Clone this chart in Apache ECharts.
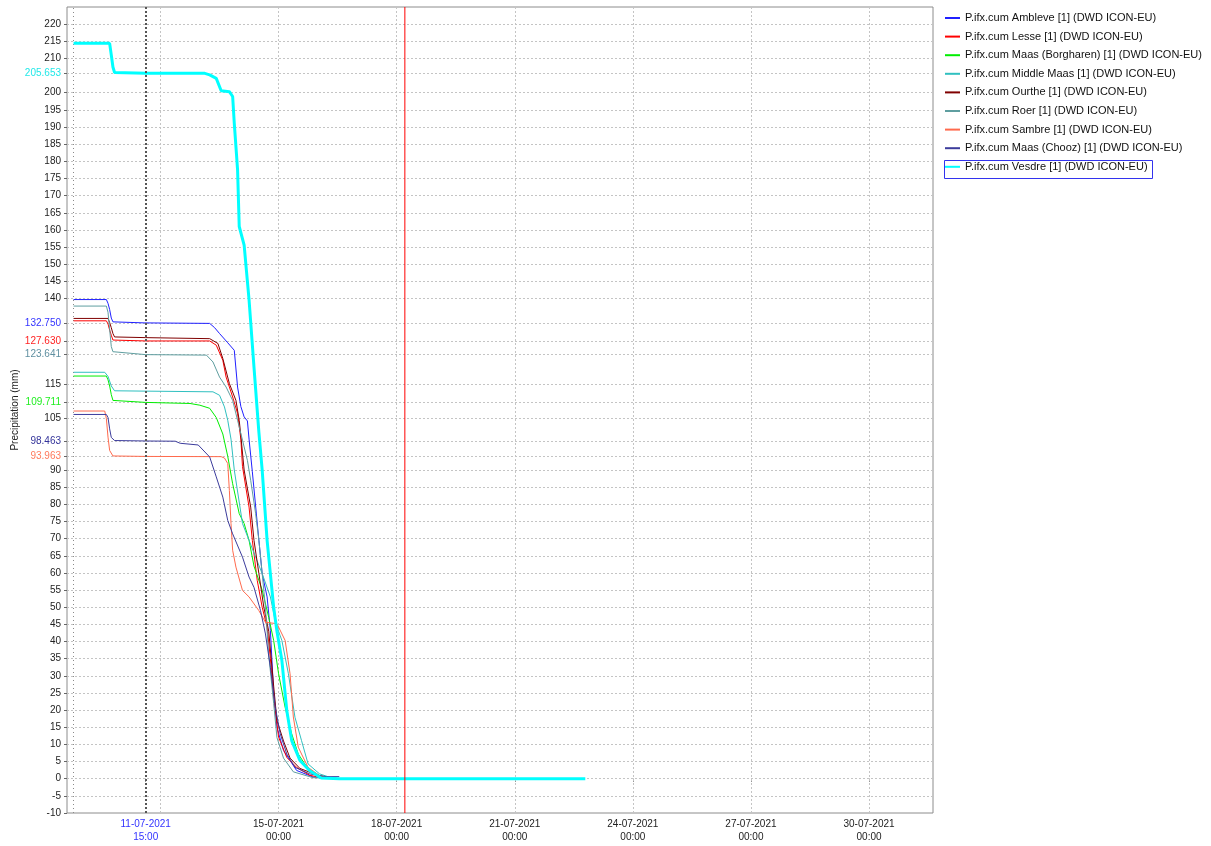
<!DOCTYPE html>
<html><head><meta charset="utf-8">
<script src="https://cdn.jsdelivr.net/npm/echarts@6/dist/echarts.min.js"></script>
<style>html,body{margin:0;padding:0;background:#fff}#c{width:1211px;height:846px}</style>
</head><body><div id="c"></div>
<script>
const seriesNames = [
  'P.ifx.cum Ambleve [1] (DWD ICON-EU)',
  'P.ifx.cum Lesse [1] (DWD ICON-EU)',
  'P.ifx.cum Maas (Borgharen) [1] (DWD ICON-EU)',
  'P.ifx.cum Middle Maas [1] (DWD ICON-EU)',
  'P.ifx.cum Ourthe [1] (DWD ICON-EU)',
  'P.ifx.cum Roer [1] (DWD ICON-EU)',
  'P.ifx.cum Sambre [1] (DWD ICON-EU)',
  'P.ifx.cum Maas (Chooz) [1] (DWD ICON-EU)',
  'P.ifx.cum Vesdre [1] (DWD ICON-EU)'
];
const ambleve = [
  ['2021-07-09 19:00',139.7],['2021-07-10 15:00',139.7],['2021-07-10 16:00',138.6],['2021-07-10 17:00',136.8],
  ['2021-07-10 18:00',134.3],['2021-07-10 19:00',133.2],['2021-07-10 20:00',132.9],['2021-07-11 14:00',132.9],
  ['2021-07-11 15:00',132.75],['2021-07-13 06:00',132.75],['2021-07-13 09:00',131.5],['2021-07-13 12:00',129.8],
  ['2021-07-13 17:00',127.1],['2021-07-13 21:00',124.9],['2021-07-13 23:00',114.2],['2021-07-14 01:00',108.5],
  ['2021-07-14 03:00',105.5],['2021-07-14 05:00',104.3],['2021-07-14 06:00',99.0],['2021-07-14 08:00',89.5],
  ['2021-07-14 12:00',69.5],['2021-07-14 14:00',59.8],['2021-07-14 17:00',53.0],['2021-07-14 19:00',43.2],
  ['2021-07-14 21:00',25.0],['2021-07-14 23:00',15.0],['2021-07-15 03:00',8.2],['2021-07-15 07:00',5.3],
  ['2021-07-15 11:00',2.4],['2021-07-15 21:00',0.5],['2021-07-16 05:00',0.1],['2021-07-16 13:00',0]
];
const lesse = [
  ['2021-07-09 19:00',133.5],['2021-07-10 15:00',133.5],['2021-07-10 16:00',132.6],['2021-07-10 17:00',130.8],
  ['2021-07-10 18:00',129.3],['2021-07-10 19:00',127.9],['2021-07-10 20:00',127.7],['2021-07-11 15:00',127.63],
  ['2021-07-13 06:00',127.63],['2021-07-13 10:00',126.4],['2021-07-13 14:00',122.0],['2021-07-13 16:00',117.1],
  ['2021-07-13 20:00',111.3],['2021-07-13 23:00',106.5],['2021-07-14 01:00',99.0],['2021-07-14 02:00',91.0],
  ['2021-07-14 06:00',79.2],['2021-07-14 08:00',69.5],['2021-07-14 11:00',57.8],['2021-07-14 14:00',50.0],
  ['2021-07-14 17:00',44.2],['2021-07-14 19:00',35.0],['2021-07-14 21:00',24.0],['2021-07-15 00:00',12.1],
  ['2021-07-15 05:00',6.2],['2021-07-15 11:00',3.3],['2021-07-15 19:00',1.0],['2021-07-16 02:00',0.3],
  ['2021-07-16 13:00',0]
];
const borgharen = [
  ['2021-07-09 19:00',117.4],['2021-07-10 15:00',117.4],['2021-07-10 16:00',116.3],['2021-07-10 17:00',114.5],
  ['2021-07-10 18:00',112.0],['2021-07-10 19:00',110.3],['2021-07-10 20:00',110.0],['2021-07-11 15:00',109.711],
  ['2021-07-12 18:00',109.4],['2021-07-13 00:00',108.9],['2021-07-13 06:00',108.0],['2021-07-13 10:00',105.3],
  ['2021-07-13 14:00',100.5],['2021-07-13 17:00',94.0],['2021-07-13 20:00',86.0],['2021-07-14 00:00',77.3],
  ['2021-07-14 03:00',74.4],['2021-07-14 06:00',69.5],['2021-07-14 09:00',62.0],['2021-07-14 14:00',55.0],
  ['2021-07-14 18:00',47.0],['2021-07-14 21:00',40.3],['2021-07-15 00:00',30.6],['2021-07-15 04:00',20.8],
  ['2021-07-15 08:00',13.1],['2021-07-15 12:00',7.2],['2021-07-15 16:00',4.3],['2021-07-15 20:00',2.3],
  ['2021-07-16 01:00',0.9],['2021-07-16 08:00',0.2],['2021-07-16 13:00',0]
];
const middleMaas = [
  ['2021-07-09 19:00',118.5],['2021-07-10 14:00',118.5],['2021-07-10 16:00',117.3],['2021-07-10 18:00',114.5],
  ['2021-07-10 20:00',113.1],['2021-07-11 15:00',113.0],['2021-07-13 08:00',112.8],['2021-07-13 12:00',111.8],
  ['2021-07-13 15:00',108.4],['2021-07-13 17:00',104.5],['2021-07-13 19:00',99.0],['2021-07-13 21:00',90.0],
  ['2021-07-14 02:00',74.4],['2021-07-14 06:00',69.5],['2021-07-14 10:00',64.6],['2021-07-14 14:00',59.8],
  ['2021-07-14 19:00',53.0],['2021-07-14 22:00',46.0],['2021-07-15 00:00',43.0],['2021-07-15 02:00',40.3],
  ['2021-07-15 06:00',30.6],['2021-07-15 10:00',17.9],['2021-07-15 14:00',11.1],['2021-07-15 18:00',4.3],
  ['2021-07-16 01:00',1.4],['2021-07-16 08:00',0.3],['2021-07-16 13:00',0]
];
const ourthe = [
  ['2021-07-09 19:00',134.2],['2021-07-10 16:00',134.2],['2021-07-10 17:00',133.0],['2021-07-10 18:00',131.5],
  ['2021-07-10 19:00',129.8],['2021-07-10 20:00',128.8],['2021-07-11 15:00',128.6],['2021-07-13 06:00',128.3],
  ['2021-07-13 11:00',126.9],['2021-07-13 14:00',122.5],['2021-07-13 18:00',115.2],['2021-07-13 22:00',110.3],
  ['2021-07-14 00:00',104.5],['2021-07-14 01:00',100.0],['2021-07-14 03:00',90.0],['2021-07-14 07:00',79.2],
  ['2021-07-14 09:00',69.5],['2021-07-14 12:00',59.8],['2021-07-14 15:00',50.0],['2021-07-14 18:00',43.0],
  ['2021-07-14 21:00',27.0],['2021-07-14 23:00',17.0],['2021-07-15 03:00',11.0],['2021-07-15 07:00',6.0],
  ['2021-07-15 13:00',3.0],['2021-07-16 02:00',0.6],['2021-07-16 13:00',0]
];
const roer = [
  ['2021-07-09 19:00',137.8],['2021-07-10 15:00',137.8],['2021-07-10 16:00',136.0],['2021-07-10 17:00',131.0],
  ['2021-07-10 18:00',126.0],['2021-07-10 19:00',124.5],['2021-07-10 20:00',124.0],['2021-07-11 15:00',123.641],
  ['2021-07-13 04:00',123.5],['2021-07-13 08:00',121.5],['2021-07-13 12:00',117.1],['2021-07-13 16:00',114.2],
  ['2021-07-13 20:00',110.3],['2021-07-13 23:00',104.5],['2021-07-14 02:00',98.7],['2021-07-14 05:00',92.8],
  ['2021-07-14 07:00',87.0],['2021-07-14 10:00',77.3],['2021-07-14 12:00',69.5],['2021-07-14 14:00',59.8],
  ['2021-07-14 16:00',50.0],['2021-07-14 18:00',36.0],['2021-07-14 21:00',22.0],['2021-07-14 23:00',12.0],
  ['2021-07-15 03:00',6.0],['2021-07-15 09:00',2.0],['2021-07-15 21:00',0.3],['2021-07-16 13:00',0]
];
const sambre = [
  ['2021-07-09 19:00',107.2],['2021-07-10 14:00',107.2],['2021-07-10 15:00',105.0],['2021-07-10 16:00',99.6],
  ['2021-07-10 17:00',95.7],['2021-07-10 19:00',94.1],['2021-07-11 15:00',93.963],['2021-07-13 13:00',93.9],
  ['2021-07-13 15:00',93.5],['2021-07-13 17:00',91.9],['2021-07-13 18:00',84.0],['2021-07-13 19:00',74.4],
  ['2021-07-13 20:00',66.6],['2021-07-13 22:00',61.7],['2021-07-14 02:00',54.9],['2021-07-14 06:00',53.0],
  ['2021-07-14 12:00',49.0],['2021-07-14 16:00',45.6],['2021-07-14 23:00',45.2],['2021-07-15 04:00',40.3],
  ['2021-07-15 07:00',30.6],['2021-07-15 09:00',18.0],['2021-07-15 12:00',9.2],['2021-07-15 14:00',7.2],
  ['2021-07-15 18:00',3.3],['2021-07-16 01:00',0.9],['2021-07-16 08:00',0.2],['2021-07-16 13:00',0]
];
const chooz = [
  ['2021-07-09 19:00',106.2],['2021-07-10 15:00',106.2],['2021-07-10 16:00',105.3],['2021-07-10 17:00',102.0],
  ['2021-07-10 18:00',99.5],['2021-07-10 20:00',98.6],['2021-07-11 15:00',98.463],['2021-07-12 09:00',98.4],
  ['2021-07-12 12:00',97.8],['2021-07-12 23:00',97.3],['2021-07-13 06:00',93.8],['2021-07-13 10:00',88.0],
  ['2021-07-13 14:00',82.1],['2021-07-13 17:00',75.3],['2021-07-13 20:00',71.4],['2021-07-14 02:00',64.6],
  ['2021-07-14 06:00',58.8],['2021-07-14 09:00',55.8],['2021-07-14 13:00',49.0],['2021-07-14 16:00',42.2],
  ['2021-07-14 19:00',32.5],['2021-07-14 22:00',20.8],['2021-07-15 01:00',13.1],['2021-07-15 05:00',7.2],
  ['2021-07-15 10:00',3.3],['2021-07-15 19:00',1.4],['2021-07-16 05:00',0.6],['2021-07-16 13:00',0.6]
];
const vesdre = [
  ['2021-07-09 19:00',214.4],['2021-07-10 17:00',214.4],['2021-07-10 18:00',211.0],['2021-07-10 19:00',207.5],
  ['2021-07-10 20:00',205.9],['2021-07-11 15:00',205.653],['2021-07-13 03:00',205.65],['2021-07-13 06:00',205.2],
  ['2021-07-13 10:00',204.2],['2021-07-13 13:00',200.6],['2021-07-13 18:00',200.3],['2021-07-13 20:00',198.9],
  ['2021-07-13 21:00',191.0],['2021-07-13 22:00',184.3],['2021-07-13 23:00',177.5],['2021-07-14 00:00',161.0],
  ['2021-07-14 03:00',155.6],['2021-07-14 06:00',139.6],['2021-07-14 09:00',120.0],['2021-07-14 12:00',101.0],
  ['2021-07-14 14:00',90.0],['2021-07-14 17:00',69.5],['2021-07-14 21:00',50.0],['2021-07-14 23:00',43.0],
  ['2021-07-15 02:00',34.5],['2021-07-15 05:00',19.9],['2021-07-15 08:00',11.1],['2021-07-15 13:00',5.3],
  ['2021-07-15 19:00',2.3],['2021-07-16 02:00',0.2],['2021-07-16 13:00',0],['2021-07-22 19:00',0]
];
// y tick labels (every 5, some hidden by current-value labels) and current values
const yTickValues = [-10,-5,0,5,10,15,20,25,30,35,40,45,50,55,60,65,70,75,80,85,90,105,115,140,145,150,155,160,165,170,175,180,185,190,195,200,210,215,220];
const currentValues = [205.653,132.75,127.63,123.641,109.711,98.463,93.963];
const xLabelTimes = ['2021-07-11 15:00','2021-07-15 00:00','2021-07-18 00:00','2021-07-21 00:00','2021-07-24 00:00','2021-07-27 00:00','2021-07-30 00:00'];
const xGridTimes = ['2021-07-12 00:00','2021-07-15 00:00','2021-07-18 00:00','2021-07-21 00:00','2021-07-24 00:00','2021-07-27 00:00','2021-07-30 00:00'];
const forecastStart = '2021-07-09 19:00';
const currentTime = '2021-07-11 15:00';
const redMarkTime = '2021-07-18 05:00';
const xMin = '2021-07-09 15:00';
const xMax = '2021-07-31 15:00';
const yMin = -10, yMax = 225;

// styles
const lineColors = ['#2020ff','#ff0000','#00ee00','#30c0c0','#800000','#5f9ea0','#ff6a4d','#3c3c9c','#00ffff'];
const currentValueColors = ['#22e8e8','#3333ff','#ff2222','#5f8fa0','#22ee22','#33339a','#ff7a5c'];

function ts(s){ return new Date(s.replace(' ','T')).getTime(); }
function pad(n){ return (n<10?'0':'')+n; }
const seriesData = [ambleve,lesse,borgharen,middleMaas,ourthe,roer,sambre,chooz,vesdre];

function vLine(name, t, style, z){
  return { type:'line', name:name, data:[], silent:true, z:z,
    markLine:{ silent:true, symbol:['none','none'], animation:false, z:z,
      label:{show:false}, emphasis:{disabled:true}, lineStyle:style,
      data:[{xAxis:ts(t)}] } };
}

const chart = echarts.init(document.getElementById('c'));
const series = [];
const yGrid = yTickValues.filter(v=>v>-10).concat(currentValues);
series.push({
  type:'line', name:'_grid', data:[], silent:true, z:1,
  markLine:{
    silent:true, symbol:['none','none'], animation:false, z:1,
    label:{show:false}, emphasis:{disabled:true},
    lineStyle:{color:'#c4c4c4', type:[2,2], width:1},
    data: yGrid.map(v=>({yAxis:v})).concat(xGridTimes.map(t=>({xAxis:ts(t)})))
  }
});
series.push(vLine('_start', forecastStart, {color:'#8a8a8a', type:[1,3], width:1}, 2));
seriesData.forEach((d,i)=>series.push({
  type:'line', name:seriesNames[i], showSymbol:false, symbol:'none',
  data:d.map(p=>[ts(p[0]),p[1]]), z:10+i,
  lineStyle:{color:lineColors[i], width: i===8?3:1},
  itemStyle:{color:lineColors[i]},
  emphasis:{disabled:true}, animation:false
}));
series.push(vLine('_now', currentTime, {color:'#555555', type:[2,2], width:2}, 30));
// red time marker drawn as a vertical line series spanning the y range
series.push({
  type:'line', name:'_red', silent:true, z:31, showSymbol:false, symbol:'none',
  data:[[ts(redMarkTime), yMin],[ts(redMarkTime), yMax]],
  lineStyle:{color:'#ff0000', width:1}, itemStyle:{color:'#ff0000'},
  emphasis:{disabled:true}, animation:false
});

const yLabelValues = yTickValues.concat(currentValues);
const xLabelTs = xLabelTimes.map(ts);

chart.setOption({
  animation:false,
  backgroundColor:'#fff',
  textStyle:{fontFamily:'Liberation Sans, Arial, sans-serif'},
  grid:{left:67, right:278, top:7, bottom:33, containLabel:false, outerBoundsMode:'none',
        show:true, borderColor:'#8c8c8c', borderWidth:1, backgroundColor:'#fff'},
  legend:{
    orient:'vertical', left:944, top:12, padding:0, itemWidth:15, itemHeight:12, itemGap:6.6,
    data:seriesNames, selectedMode:false,
    itemStyle:{opacity:0},
    textStyle:{fontSize:11, color:'#111', lineHeight:12}
  },
  graphic:[{type:'rect', left:942, top:158, shape:{width:208, height:18}, style:{fill:'none', stroke:'#3333ee', lineWidth:1}, z:100}],
  xAxis:{
    type:'value', min:ts(xMin), max:ts(xMax),
    axisLine:{show:false}, splitLine:{show:false},
    axisTick:{show:true, customValues:xLabelTs, length:3, lineStyle:{color:'#666'}},
    axisLabel:{
      customValues:xLabelTs, fontSize:10, lineHeight:13, margin:5, hideOverlap:false,
      formatter:function(v){ const d=new Date(+v); return pad(d.getDate())+'-'+pad(d.getMonth()+1)+'-'+d.getFullYear()+'\n'+pad(d.getHours())+':'+pad(d.getMinutes()); },
      color:function(v){ return (+v===ts(currentTime))?'#3333ff':'#222'; }
    }
  },
  yAxis:{
    type:'value', min:yMin, max:yMax,
    name:'Precipitation (mm)', nameLocation:'middle', nameGap:47, nameRotate:90, nameMoveOverlap:false,
    nameTextStyle:{fontSize:10, color:'#222'},
    axisLine:{show:false}, splitLine:{show:false},
    axisTick:{show:true, customValues:yLabelValues, length:3, lineStyle:{color:'#666'}},
    axisLabel:{
      customValues:yLabelValues, fontSize:10, margin:6, hideOverlap:false,
      formatter:function(v){ const i=currentValues.indexOf(+v); return i>=0 ? (+v).toFixed(3) : String(v); },
      color:function(v){ const i=currentValues.indexOf(parseFloat(v)); return i>=0 ? currentValueColors[i] : '#222'; }
    }
  },
  series:series
});
</script></body></html>
